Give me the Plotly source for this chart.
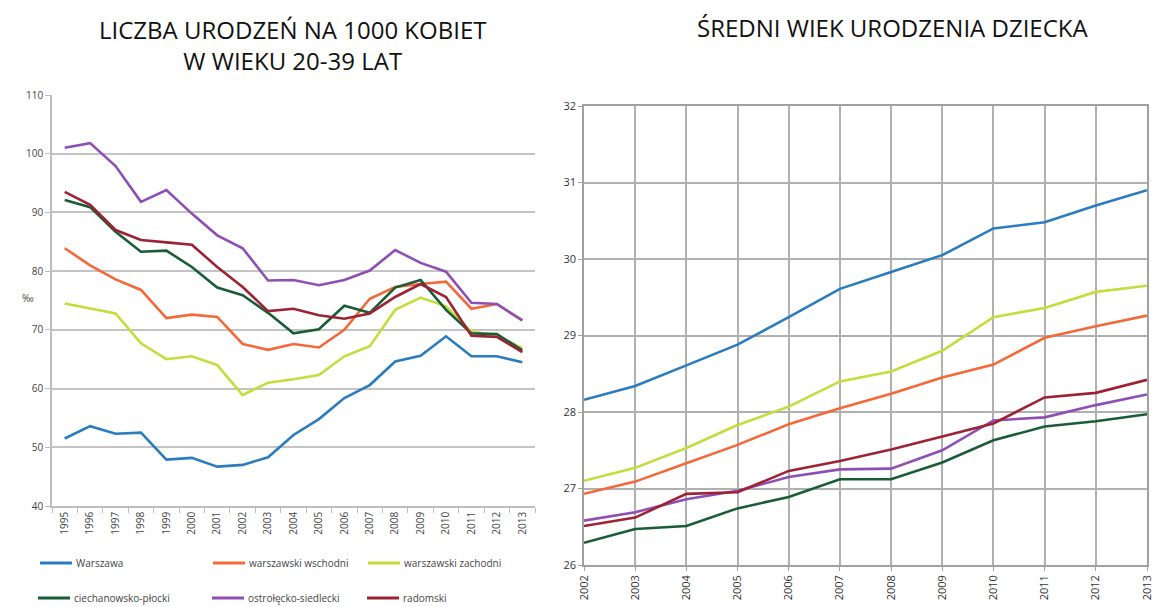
import plotly.graph_objects as go

# ---- data ----
years_left = list(range(1995, 2014))
years_right = list(range(2002, 2014))

series_names = ["Warszawa", "warszawski wschodni", "warszawski zachodni",
                "ciechanowsko-płocki", "ostrołęcko-siedlecki", "radomski"]
colors = ["#2b7bbf", "#f4683a", "#c2dd3c", "#1a5c38", "#8e4fb5", "#9c2335"]

births_warszawa = [51.5, 53.6, 52.3, 52.5, 47.9, 48.2, 46.7, 47.0, 48.3, 52.1,
                   54.8, 58.4, 60.6, 64.6, 65.6, 68.9, 65.5, 65.5, 64.5]
births_wschodni = [83.9, 81.0, 78.6, 76.8, 72.0, 72.6, 72.2, 67.6, 66.6, 67.6,
                   67.0, 70.0, 75.3, 77.3, 77.8, 78.2, 73.6, 74.4, 71.6]
births_zachodni = [74.5, 73.6, 72.8, 67.7, 65.0, 65.5, 64.0, 58.9, 61.0, 61.6,
                   62.3, 65.5, 67.2, 73.4, 75.5, 74.0, 69.7, 69.0, 66.9]
births_ciechanowsko = [92.1, 90.9, 86.7, 83.3, 83.5, 80.7, 77.2, 75.9, 72.9, 69.4,
                       70.1, 74.1, 72.9, 77.2, 78.5, 73.4, 69.4, 69.3, 66.5]
births_ostroleckie = [101.0, 101.8, 97.9, 91.8, 93.8, 89.8, 86.1, 83.9, 78.4, 78.5,
                      77.6, 78.5, 80.1, 83.6, 81.4, 79.9, 74.6, 74.4, 71.6]
births_radomski = [93.5, 91.3, 87.0, 85.3, 84.9, 84.5, 80.7, 77.3, 73.2, 73.6,
                   72.5, 71.9, 72.8, 75.6, 77.8, 75.6, 69.0, 68.8, 66.2]

age_warszawa = [28.16, 28.34, 28.61, 28.88, 29.24, 29.61, 29.83, 30.05, 30.40, 30.48, 30.70, 30.90]
age_wschodni = [26.93, 27.09, 27.33, 27.57, 27.84, 28.05, 28.24, 28.45, 28.62, 28.97, 29.12, 29.26]
age_zachodni = [27.10, 27.27, 27.53, 27.83, 28.07, 28.40, 28.53, 28.80, 29.24, 29.36, 29.57, 29.65]
age_ciechanowsko = [26.29, 26.47, 26.51, 26.74, 26.89, 27.12, 27.12, 27.34, 27.63, 27.81, 27.88, 27.97]
age_ostroleckie = [26.58, 26.69, 26.86, 26.97, 27.15, 27.25, 27.26, 27.50, 27.89, 27.93, 28.09, 28.23]
age_radomski = [26.51, 26.62, 26.93, 26.95, 27.23, 27.36, 27.51, 27.68, 27.85, 28.19, 28.25, 28.42]

title_left = "LICZBA URODZEŃ NA 1000 KOBIET<br>W WIEKU 20-39 LAT"
title_right = "ŚREDNI WIEK URODZENIA DZIECKA"
y_unit = "‰"

births = [births_warszawa, births_wschodni, births_zachodni,
          births_ciechanowsko, births_ostroleckie, births_radomski]
ages = [age_warszawa, age_wschodni, age_zachodni,
        age_ciechanowsko, age_ostroleckie, age_radomski]

W, H = 1153, 607
fig = go.Figure()

for name, col, vals in zip(series_names, colors, births):
    fig.add_trace(go.Scatter(x=years_left, y=vals, mode="lines", name=name,
                             line=dict(color=col, width=2.6), showlegend=False,
                             xaxis="x", yaxis="y"))
for name, col, vals in zip(series_names, colors, ages):
    fig.add_trace(go.Scatter(x=years_right, y=vals, mode="lines", name=name,
                             line=dict(color=col, width=2.6), showlegend=False,
                             xaxis="x2", yaxis="y2"))

tickfont = dict(family="Open Sans, Liberation Sans, sans-serif", size=10, color="#444")
tickfont2 = dict(family="Open Sans, sans-serif", size=11, color="#333")
grid = "#c4c4c4"

fig.update_layout(
    width=W, height=H,
    margin=dict(l=0, r=0, t=0, b=0, autoexpand=False),
    paper_bgcolor="white", plot_bgcolor="white",
    xaxis=dict(domain=[52 / W, 535 / W], range=[1994.5, 2013.5], automargin=False,
               tickmode="array", tickvals=years_left, ticktext=[str(y) for y in years_left],
               tickangle=-90, tickfont=tickfont, ticks="", showgrid=False,
               showline=True, linecolor="#bdbdbd", linewidth=1.5,
               minor=dict(ticks="outside", tick0=1994.5, dtick=1, ticklen=5,
                          tickcolor="#bdbdbd", showgrid=False),
               anchor="y", zeroline=False),
    yaxis=dict(domain=[1 - 506 / H, 1 - 95 / H], range=[40, 110], dtick=10, automargin=False,
               tickfont=tickfont, showgrid=True, gridcolor=grid, gridwidth=1.5,
               showline=True, linecolor="#bdbdbd", linewidth=1.5,
               ticks="outside", ticklen=5, tickcolor="#bdbdbd",
               anchor="x", zeroline=False),
    xaxis2=dict(domain=[584 / W, 1147 / W], range=[2002, 2013], automargin=False,
                tickmode="array", tickvals=years_right, ticktext=[str(y) for y in years_right],
                tickangle=-90, tickfont=tickfont2, ticklabeloverflow="allow",
                ticks="outside", ticklen=4, tickcolor="#a0a0a0",
                showgrid=True, gridcolor="#b0b0b0", gridwidth=1.5,
                showline=True, linecolor="#a0a0a0", linewidth=1.5, mirror=True,
                anchor="y2", zeroline=False),
    yaxis2=dict(domain=[1 - 565 / H, 1 - 106 / H], range=[26, 32], dtick=1, automargin=False,
                tickfont=tickfont2,
                ticks="outside", ticklen=4, tickcolor="#a0a0a0",
                showgrid=True, gridcolor="#b0b0b0", gridwidth=1.5,
                showline=True, linecolor="#a0a0a0", linewidth=1.5, mirror=True,
                anchor="x2", zeroline=False),
)

titlefont = dict(family="Open Sans, Liberation Sans, sans-serif", size=24, color="#111")
fig.add_annotation(x=293 / W, y=1 - 45 / H, xref="paper", yref="paper",
                   text=title_left, showarrow=False, font=titlefont,
                   xanchor="center", yanchor="middle", align="center")
fig.add_annotation(x=893 / W, y=1 - 27 / H, xref="paper", yref="paper",
                   text=title_right, showarrow=False, font=titlefont,
                   xanchor="center", yanchor="middle")
fig.add_annotation(x=20 / W, y=1 - 298 / H, xref="paper", yref="paper",
                   text=y_unit, showarrow=False,
                   font=dict(family="Open Sans, sans-serif", size=10, color="#444"))

# legend drawn as lines + labels (positions in paper fraction)
leg_pos = [(40, 563), (213, 563), (368, 563), (38, 598), (212, 598), (367, 598)]
legfont = dict(family="Open Sans, Liberation Sans, sans-serif", size=10, color="#444")
for (lx, ly), name, col in zip(leg_pos, series_names, colors):
    fig.add_shape(type="line", xref="paper", yref="paper",
                  x0=lx / W, x1=(lx + 32) / W, y0=1 - ly / H, y1=1 - ly / H,
                  line=dict(color=col, width=3))
    fig.add_annotation(x=(lx + 34) / W, y=1 - ly / H, xref="paper", yref="paper",
                       text=name, showarrow=False, font=legfont,
                       xanchor="left", yanchor="middle")

fig.write_html("out.html",
               config={"displayModeBar": False},
               post_script="document.body.style.margin='0';"
                           "document.body.style.overflow='hidden';"
                           "document.documentElement.style.overflow='hidden';")
